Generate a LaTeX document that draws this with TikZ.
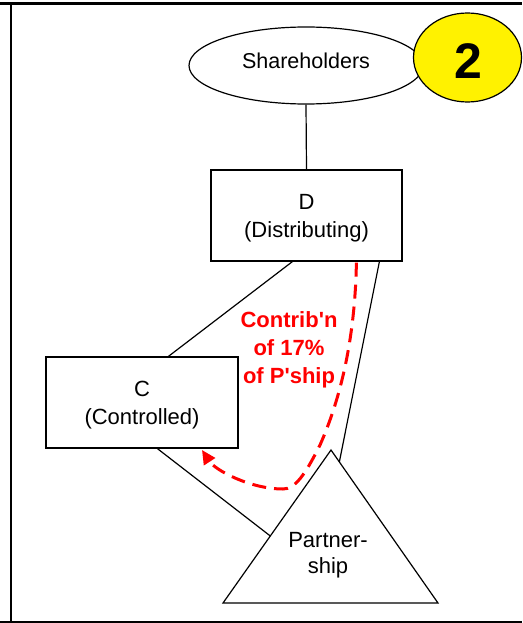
\documentclass[tikz,border=0pt]{standalone}
\usepackage{fontspec}
\setmainfont{Liberation Sans}
\usetikzlibrary{shapes.geometric,arrows.meta,calc}
\begin{document}
\begin{tikzpicture}[x=1pt,y=-1pt,
  box/.style={draw,line width=1.2pt,minimum width=191pt,minimum height=91pt,inner sep=0pt,align=center,font=\fontsize{22}{28}\selectfont},
  oval/.style={ellipse,draw,line width=1.2pt,inner sep=0pt},
  conn/.style={line width=1.2pt},
  redlbl/.style={text=red,font=\fontsize{22}{28}\selectfont\bfseries,align=center},
  contrib/.style={draw=red,line width=3pt,dash pattern=on 14pt off 8pt,-{Triangle[length=14pt,width=13pt]}}]
\useasboundingbox (0,0) rectangle (522,623);
% frame
\draw[line width=3pt] (0,4) -- (522,4);
\draw[line width=2.5pt] (11,3) -- (11,623);
\draw[line width=2pt] (0,622) -- (522,622);
% nodes
\node[oval,minimum width=234pt,minimum height=77pt,font=\fontsize{21.5}{24}\selectfont,text height=15pt,text depth=8pt] (sh) at (306,65.5) {Shareholders};
\node[oval,fill=yellow,minimum width=108pt,minimum height=89pt] (numbg) at (467.5,57.5) {};
\node[font=\fontsize{50}{60}\selectfont\bfseries,inner sep=0pt] (num) at (468,61) {2};
\node[box] (D) at (306.5,215.5) {\rule{0pt}{21pt}D\\(Distributing)};
\node[box,minimum width=192pt] (C) at (142,402.5) {\rule{0pt}{21pt}C\\(Controlled)};
\coordinate (pa) at (331,450);
\coordinate (pl) at (223,603);
\coordinate (pr) at (438,603);
\draw[conn] (pa) -- (pl) -- (pr) -- cycle;
\node[font=\fontsize{22}{26}\selectfont,align=center] (P) at (328,555) {Partner-\\ship};
% connectors
\draw[conn] (sh.south) -- (D.north);
\draw[conn] ([xshift=82pt]D.south west) -- ([xshift=123pt]C.north west);
\draw[conn] ([xshift=169pt]D.south west) -- ($(pa)!0.078!(pr)$);
\draw[conn] ([xshift=112pt]C.south west) -- ($(pa)!0.562!(pl)$);
% contribution arrow
\coordinate (tip) at (202,450);
\draw[contrib] ([xshift=146pt,yshift=-1pt]D.south west) .. controls (355,340) and (340,400) .. (320,445) .. controls (305,475) and (295,489) .. (283,489) .. controls (250,489) and (215,470) .. (tip);
\node[redlbl] (lbl) at (289,350) {Contrib\textquotesingle n\\of 17\%\\of P\textquotesingle ship};
\end{tikzpicture}
\end{document}
